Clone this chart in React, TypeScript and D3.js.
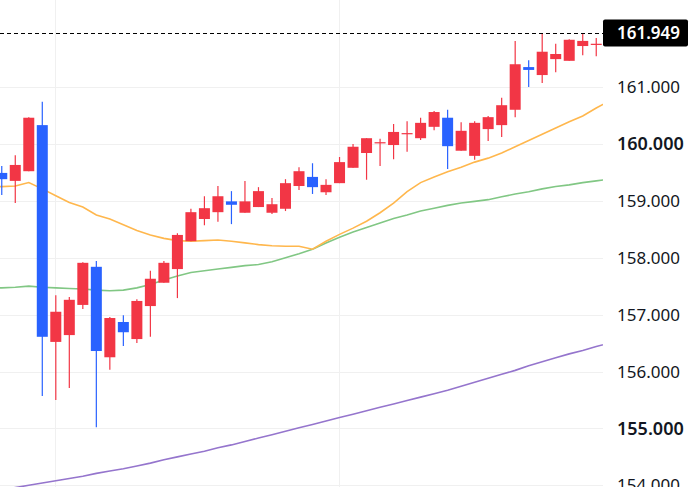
import { useEffect, useRef } from "react"
import * as d3 from "d3"

// candle data, one entry per bar
const opens = [159.49, 159.35, 159.52, 160.33, 156.52, 156.64, 157.17, 157.84, 156.25, 156.87, 156.57, 157.15, 157.56, 157.80, 158.29, 158.68, 158.80, 158.99, 158.79, 158.89, 158.79, 158.86, 159.26, 159.42, 159.15, 159.31, 159.58, 159.84, 160.02, 159.98, 160.17, 160.10, 160.30, 160.46, 159.88, 159.79, 160.26, 160.33, 160.60, 161.35, 161.21, 161.49, 161.46, 161.72, 161.74]
const highs = [159.61, 159.80, 160.47, 160.74, 157.34, 157.31, 157.92, 157.94, 156.96, 156.99, 157.27, 157.77, 157.94, 158.43, 158.86, 159.08, 159.26, 159.17, 159.35, 159.24, 159.05, 159.38, 159.59, 159.66, 159.38, 159.77, 160.00, 160.10, 160.09, 160.35, 160.40, 160.46, 160.58, 160.60, 160.38, 160.40, 160.49, 160.81, 161.81, 161.47, 161.93, 161.76, 161.84, 161.95, 161.86]
const lows = [159.10, 158.96, 159.52, 155.57, 155.50, 155.71, 157.10, 155.02, 156.03, 156.45, 156.50, 156.61, 157.56, 157.29, 158.29, 158.57, 158.63, 158.59, 158.79, 158.89, 158.77, 158.82, 159.19, 159.12, 159.10, 159.31, 159.58, 159.37, 159.61, 159.73, 159.86, 160.07, 160.24, 159.56, 159.88, 159.72, 160.05, 160.12, 160.47, 161.00, 161.07, 161.26, 161.46, 161.56, 161.54]
const closes = [159.38, 159.63, 160.46, 156.61, 157.05, 157.26, 157.91, 156.36, 156.94, 156.69, 157.24, 157.63, 157.91, 158.40, 158.80, 158.87, 159.08, 158.93, 158.99, 159.17, 158.94, 159.31, 159.52, 159.24, 159.28, 159.68, 159.95, 160.10, 160.03, 160.21, 160.19, 160.37, 160.56, 159.96, 160.23, 160.37, 160.47, 160.68, 161.40, 161.30, 161.62, 161.58, 161.83, 161.81, 161.76]

// moving averages, starting one bar before the first candle
const maStart = -1
const maFast = [159.25, 159.25, 159.26, 159.32, 159.21, 159.09, 158.97, 158.89, 158.75, 158.68, 158.58, 158.48, 158.40, 158.34, 158.30, 158.29, 158.30, 158.31, 158.29, 158.26, 158.23, 158.21, 158.20, 158.20, 158.15, 158.29, 158.41, 158.52, 158.64, 158.79, 158.96, 159.16, 159.32, 159.42, 159.51, 159.59, 159.68, 159.75, 159.84, 159.95, 160.06, 160.17, 160.28, 160.39, 160.49, 160.63, 160.76]
const maMid = [157.47, 157.47, 157.48, 157.50, 157.48, 157.47, 157.46, 157.45, 157.43, 157.42, 157.43, 157.47, 157.53, 157.61, 157.68, 157.74, 157.77, 157.80, 157.83, 157.86, 157.88, 157.93, 158.00, 158.07, 158.15, 158.26, 158.36, 158.45, 158.53, 158.61, 158.69, 158.75, 158.82, 158.87, 158.92, 158.96, 158.99, 159.02, 159.07, 159.12, 159.16, 159.21, 159.25, 159.28, 159.32, 159.35, 159.38]
const maSlow = [153.88, 153.92, 153.96, 154.00, 154.04, 154.08, 154.12, 154.16, 154.21, 154.25, 154.29, 154.34, 154.39, 154.45, 154.50, 154.55, 154.60, 154.66, 154.71, 154.77, 154.83, 154.89, 154.95, 155.01, 155.07, 155.13, 155.19, 155.25, 155.31, 155.37, 155.43, 155.49, 155.55, 155.61, 155.67, 155.74, 155.81, 155.88, 155.95, 156.02, 156.10, 156.17, 156.24, 156.31, 156.37, 156.44, 156.50]

const yTicks = [154, 155, 156, 157, 158, 159, 160, 161]
const vGridBars = [4, 25]
const lastPrice = 161.949

const UP = "#F23645"
const DOWN = "#2962FF"

export default function App() {
  const svgRef = useRef<SVGSVGElement>(null)

  useEffect(() => {
    d3.select(svgRef.current).selectAll("*").remove()
    if (!svgRef.current) return
    const svg = d3.select(svgRef.current)
    const width = 691
    const height = 487
    const plotRight = 603

    const xScale = d3.scaleLinear().domain([-0.13, 44.5]).range([0, plotRight])
    const yScale = d3.scaleLinear().domain([154, 161]).range([485.3, 87])
    const step = xScale(1) - xScale(0)
    const bodyW = 11

    svg.append("rect").attr("width", width).attr("height", height).attr("fill", "#ffffff")

    svg.append("defs").append("clipPath").attr("id", "plot")
      .append("rect").attr("width", plotRight).attr("height", height)

    // grid
    svg.append("g").selectAll("line").data(yTicks).join("line")
      .attr("x1", 0).attr("x2", plotRight)
      .attr("y1", d => Math.round(yScale(d)) + 0.5)
      .attr("y2", d => Math.round(yScale(d)) + 0.5)
      .attr("stroke", "#f0f0f0")
    svg.append("g").selectAll("line").data(vGridBars).join("line")
      .attr("x1", d => Math.round(xScale(d)) - 0.5)
      .attr("x2", d => Math.round(xScale(d)) - 0.5)
      .attr("y1", 0).attr("y2", height)
      .attr("stroke", "#f0f0f0")

    const plot = svg.append("g").attr("clip-path", "url(#plot)")

    // moving averages
    const mas: [number[], string][] = [
      [maSlow, "#9575CD"],
      [maMid, "#81C784"],
      [maFast, "#FFB74D"],
    ]
    mas.forEach(([vals, color]) => {
      const line = d3.line<number>()
        .x((d, i) => xScale(i + maStart))
        .y(d => yScale(d))
      plot.append("path")
        .datum(vals)
        .attr("fill", "none")
        .attr("stroke", color)
        .attr("stroke-width", 1.6)
        .attr("d", line)
    })

    // candles
    const idx = d3.range(opens.length)
    const candles = plot.append("g").selectAll("g").data(idx).join("g")
    candles.append("line")
      .attr("x1", i => xScale(i))
      .attr("x2", i => xScale(i))
      .attr("y1", i => yScale(highs[i]))
      .attr("y2", i => yScale(lows[i]))
      .attr("stroke", i => (closes[i] >= opens[i] ? UP : DOWN))
      .attr("stroke-width", 1.2)
    candles.append("rect")
      .attr("x", i => xScale(i) - bodyW / 2)
      .attr("width", bodyW)
      .attr("y", i => yScale(Math.max(opens[i], closes[i])))
      .attr("height", i => Math.max(1.2, Math.abs(yScale(opens[i]) - yScale(closes[i]))))
      .attr("fill", i => (closes[i] >= opens[i] ? UP : DOWN))
    void step

    // last price line
    svg.append("line")
      .attr("x1", 0).attr("x2", plotRight)
      .attr("y1", Math.round(yScale(lastPrice)) + 0.5)
      .attr("y2", Math.round(yScale(lastPrice)) + 0.5)
      .attr("stroke", "#000")
      .attr("stroke-dasharray", "4 3")

    // axis labels
    svg.append("g").selectAll("text").data(yTicks).join("text")
      .attr("x", 617)
      .attr("y", d => yScale(d))
      .attr("dy", "0.36em")
      .attr("fill", "#131722")
      .attr("font-family", "'Noto Sans', sans-serif")
      .attr("font-size", d => (d === 160 || d === 155 ? 18 : 17))
      .attr("font-weight", d => (d === 160 || d === 155 ? 600 : 400))
      .text(d => d3.format(".3f")(d))

    const ly = yScale(lastPrice)
    svg.append("rect")
      .attr("x", plotRight).attr("y", ly - 13.5)
      .attr("width", 85).attr("height", 27)
      .attr("rx", 2)
      .attr("fill", "#000")
    svg.append("text")
      .attr("x", 617).attr("y", ly)
      .attr("dy", "0.36em")
      .attr("fill", "#fff")
      .attr("font-family", "'Noto Sans', sans-serif")
      .attr("font-size", 17)
      .attr("font-weight", 600)
      .text(d3.format(".3f")(lastPrice))
  }, [])

  return (
    <div style={{ position: "absolute", left: 0, top: 0 }}>
      <svg ref={svgRef} width="691" height="487" style={{ display: "block" }}></svg>
    </div>
  )
}
